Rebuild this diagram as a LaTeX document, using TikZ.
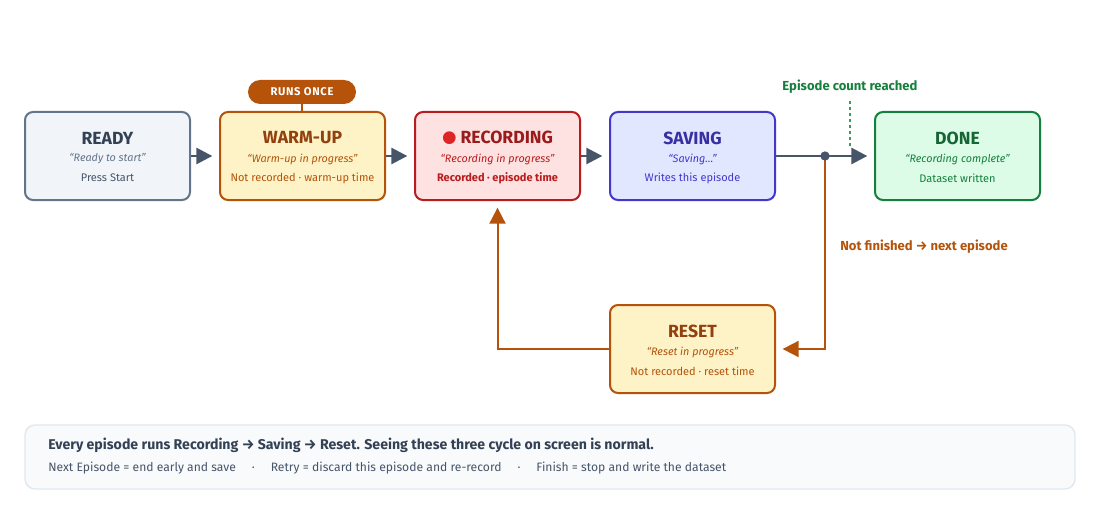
\documentclass[tikz,border=0pt]{standalone}
\usepackage{fontspec}
\setmainfont{Fira Sans}
\newfontfamily\dotfont{DejaVu Sans}
\usetikzlibrary{calc,arrows.meta}

\definecolor{slateline}{HTML}{64748B}
\definecolor{slatebg}{HTML}{F1F5F9}
\definecolor{slatetitle}{HTML}{334155}
\definecolor{slatetext}{HTML}{475569}
\definecolor{amberline}{HTML}{B45309}
\definecolor{amberbg}{HTML}{FEF3C7}
\definecolor{ambertitle}{HTML}{92400E}
\definecolor{redline}{HTML}{B91C1C}
\definecolor{redbg}{HTML}{FEE2E2}
\definecolor{redtitle}{HTML}{991B1B}
\definecolor{reddot}{HTML}{DC2626}
\definecolor{blueline}{HTML}{4338CA}
\definecolor{bluebg}{HTML}{E0E7FF}
\definecolor{bluetitle}{HTML}{3730A3}
\definecolor{greenline}{HTML}{15803D}
\definecolor{greenbg}{HTML}{DCFCE7}
\definecolor{greentitle}{HTML}{166534}
\definecolor{greendash}{HTML}{3A9A62}
\definecolor{notebg}{HTML}{F8FAFC}
\definecolor{noteline}{HTML}{E2E8F0}
\definecolor{notetitle}{HTML}{334155}

\tikzset{
  box/.style={draw, line width=1.5pt, rounded corners=6pt, minimum width=123.75pt, minimum height=66pt, inner sep=0pt},
  ttl/.style={font=\bfseries\fontsize{13.2}{15}\selectfont, inner sep=0pt},
  qt/.style={font=\itshape\fontsize{8.1}{9}\selectfont, inner sep=0pt},
  sub/.style={font=\fontsize{8.25}{10}\selectfont, inner sep=0pt},
  flow/.style={line width=2pt, draw=slatetext, -{Triangle[length=12pt,width=12pt]}, shorten >=5pt},
  back/.style={line width=1.5pt, draw=amberline, -{Triangle[length=12pt,width=12pt]}, shorten >=5pt},
  lbl/.style={font=\bfseries\fontsize{9.8}{12}\selectfont, inner sep=0pt}
}

% name, centre, border, fill, title colour, text colour, title, quote, line
\newcommand\state[9]{%
  \node[box, draw=#3, fill=#4] (#1) at (#2) {};
  \node[ttl, text=#5] (#1-t) at ($(#1.center)+(0,-18)$) {#7};
  \node[qt, text=#3] (#1-q) at ($(#1.center)+(0,3)$) {#8};
  \node[sub, text=#6] (#1-s) at ($(#1.center)+(0,22)$) {#9};
}

\begin{document}
\begin{tikzpicture}[x=0.75pt, y=-0.75pt]
			%%%%% START %%%%%
			
			\useasboundingbox (0,0) rectangle (1100,510);
			
			\state{ready}{107.5,156}{slateline}{slatebg}{slatetitle}{slatetext}{READY}{“Ready to start”}{Press Start}
			\state{warm}{302.5,156}{amberline}{amberbg}{ambertitle}{amberline}{WARM-UP}{“Warm-up in progress”}{Not recorded · warm-up time}
			\state{rec}{497.5,156}{redline}{redbg}{redtitle}{redline}{\textcolor{reddot}{\raisebox{0.8pt}{\dotfont\fontsize{12.5}{12}\selectfont ●}}\hspace{3pt}RECORDING}{“Recording in progress”}{\bfseries Recorded · episode time}
			\state{save}{692.5,156}{blueline}{bluebg}{bluetitle}{blueline}{SAVING}{“Saving…”}{Writes this episode}
			\state{done}{957.5,156}{greenline}{greenbg}{greentitle}{greenline}{DONE}{“Recording complete”}{Dataset written}
			\state{reset}{692.5,349}{amberline}{amberbg}{ambertitle}{amberline}{RESET}{“Reset in progress”}{Not recorded · reset time}
			
			\node[fill=amberline, text=white, rounded corners=9pt, minimum width=81pt, minimum height=18pt, inner sep=0pt, font=\bfseries\fontsize{8.4}{10}\selectfont\addfontfeature{LetterSpace=6}] (once) at (302,92) {RUNS ONCE};
			\draw[amberline, line width=1.1pt] (once.south) -- (once |- warm.north);
			
			\draw[flow] (ready.east) -- (warm.west);
			\draw[flow] (warm.east) -- (rec.west);
			\draw[flow] (rec.east) -- (save.west);
			
			\coordinate (split) at (825,156);
			\draw[line width=2pt, slatetext] (save.east) -- (split);
			\draw[flow] (split) -- (done.west);
			
			\node[lbl, text=greenline] (countlbl) at (850,87) {Episode count reached};
			\coordinate (gate) at (850,148);
			\draw[greendash, line width=1.1pt, dash pattern=on 2.5pt off 2pt, shorten <=5pt] (countlbl.south -| gate) -- (gate);
			
			\draw[back] (split) -- (split |- reset.east) -- (reset.east);
			\draw[back] (reset.west) -| (rec.south);
			\node[lbl, text=amberline, anchor=west] (nextlbl) at (840,247) {Not finished → next episode};
			
			\node[circle, fill=slatetext, inner sep=0pt, minimum size=7pt] (splitdot) at (split) {};
			
			\node[draw=noteline, fill=notebg, line width=1.1pt, rounded corners=7.5pt, minimum width=787.5pt, minimum height=48pt] (note) at (550,457) {};
			\node[anchor=west, inner sep=0pt, text=notetitle, font=\bfseries\fontsize{10.6}{12}\selectfont] (note1) at (48,445) {Every episode runs Recording → Saving → Reset. Seeing these three cycle on screen is normal.};
			\node[anchor=west, inner sep=0pt, text=slatetext, font=\fontsize{9.1}{11}\selectfont] (note2) at (48,468) {Next Episode = end early and save\hspace{12pt}·\hspace{12pt}Retry = discard this episode and re-record\hspace{12pt}·\hspace{12pt}Finish = stop and write the dataset};
			
			%%%%% END %%%%%
		\end{tikzpicture}
\end{document}
